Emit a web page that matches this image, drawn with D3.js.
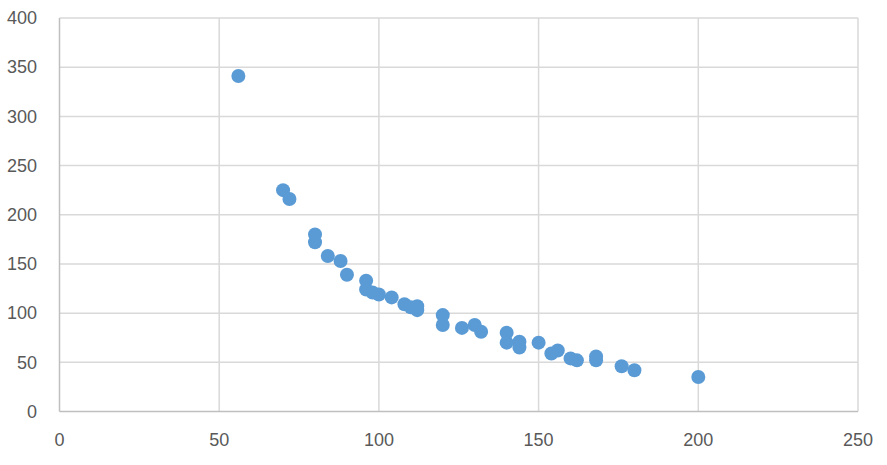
<!DOCTYPE html>
<html><head><meta charset="utf-8">
<script src="https://cdn.jsdelivr.net/npm/d3@7"></script>
<style>body{margin:0;background:#fff}</style>
</head><body>
<svg id="c" width="887" height="465"></svg>
<script>
const xValues = [56,70,72,80,80,84,88,90,96,96,98,100,104,108,110,112,112,120,120,126,130,132,140,140,144,144,150,154,156,160,162,168,168,176,180,200];
const yValues = [341,225,216,180,172,158,153,139,133,124,121,119,116,109,106,107,103,98,88,85,88,81,80,70,71,65,70,59,62,54,52,56,52,46,42,35];
const xTicks = [0,50,100,150,200,250];
const yTicks = [0,50,100,150,200,250,300,350,400];

const svg = d3.select("#c");
const m = {l:59.5, r:858, t:18, b:411.5};
const x = d3.scaleLinear().domain([0,250]).range([m.l, m.r]);
const y = d3.scaleLinear().domain([0,400]).range([m.b, m.t]);

// gridlines
svg.append("g").selectAll("line.h").data(yTicks.filter(d=>d>0)).join("line")
  .attr("x1", m.l).attr("x2", m.r).attr("y1", d=>y(d)).attr("y2", d=>y(d))
  .attr("stroke", "#D9D9D9").attr("stroke-width", 1.5);
svg.append("g").selectAll("line.v").data(xTicks.filter(d=>d>0)).join("line")
  .attr("x1", d=>x(d)).attr("x2", d=>x(d)).attr("y1", m.t).attr("y2", m.b)
  .attr("stroke", "#D9D9D9").attr("stroke-width", 1.5);

// axes lines
svg.append("line").attr("x1", m.l).attr("x2", m.r).attr("y1", y(0)).attr("y2", y(0))
  .attr("stroke", "#BFBFBF").attr("stroke-width", 1.5);
svg.append("line").attr("x1", x(0)).attr("x2", x(0)).attr("y1", m.t).attr("y2", m.b)
  .attr("stroke", "#BFBFBF").attr("stroke-width", 1.5);

// tick labels
const font = "'Liberation Sans', Arial, sans-serif";
svg.append("g").selectAll("text").data(yTicks).join("text")
  .attr("x", 37).attr("y", d=>y(d)).attr("dy", "0.35em")
  .attr("text-anchor", "end").attr("font-family", font).attr("font-size", 18)
  .attr("fill", "#595959").text(d=>d);
svg.append("g").selectAll("text").data(xTicks).join("text")
  .attr("x", d=>x(d)).attr("y", 446)
  .attr("text-anchor", "middle").attr("font-family", font).attr("font-size", 18)
  .attr("fill", "#595959").text(d=>d);

// points
svg.append("g").selectAll("circle").data(xValues.map((v,i)=>[v,yValues[i]])).join("circle")
  .attr("cx", d=>x(d[0])).attr("cy", d=>y(d[1])).attr("r", 7)
  .attr("fill", "#5B9BD5");
</script>
</body></html>
